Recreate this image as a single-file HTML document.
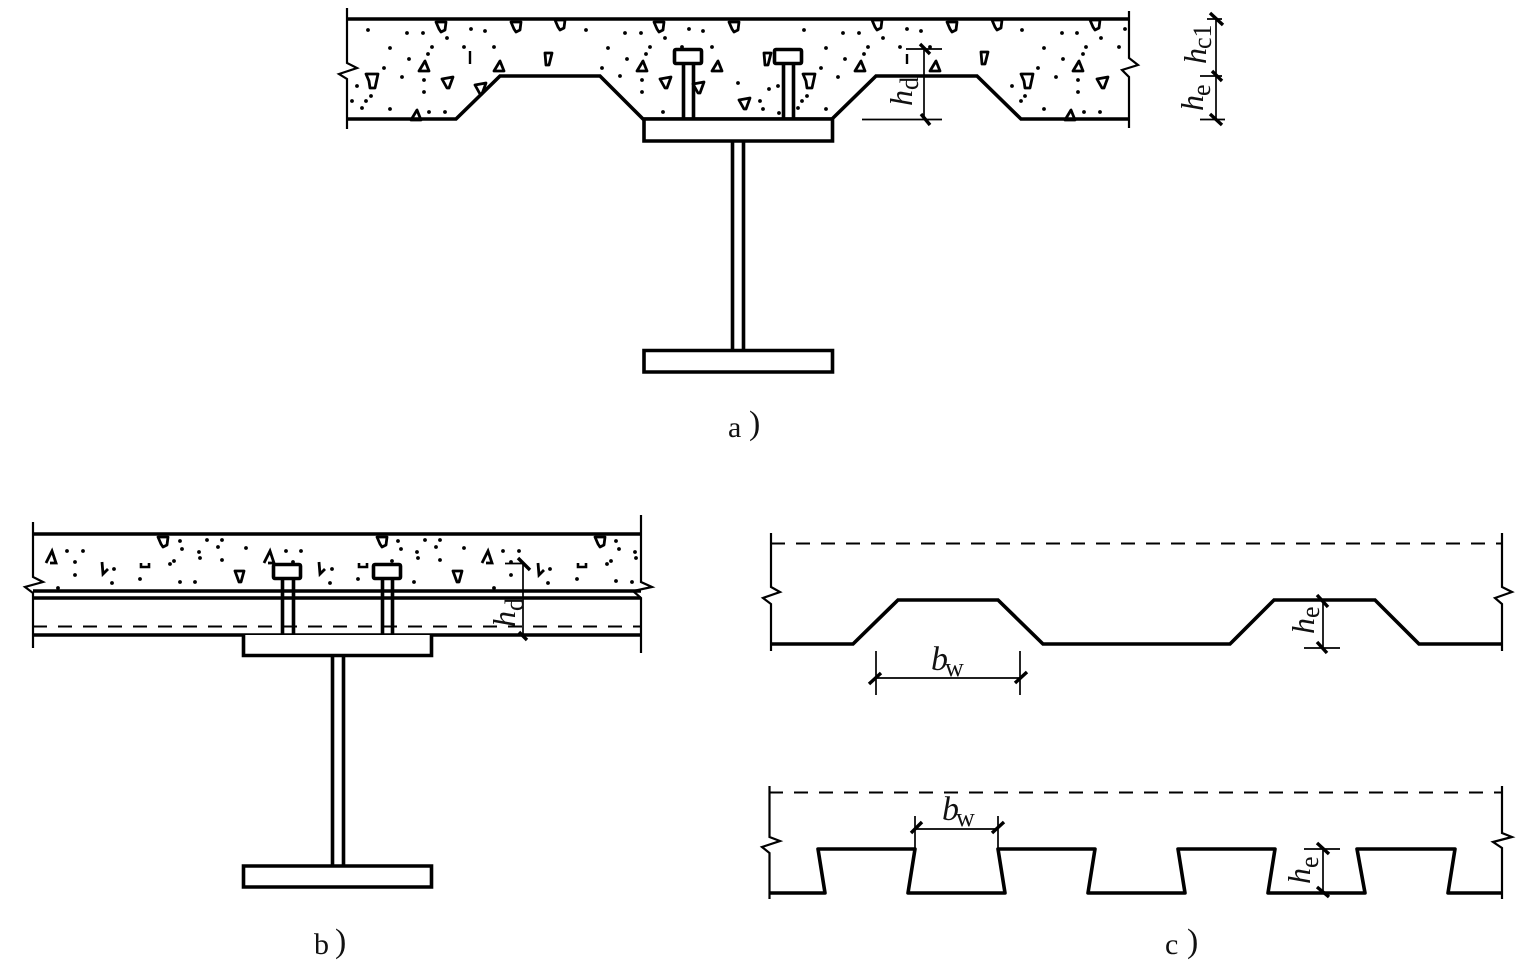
<!DOCTYPE html>
<html><head><meta charset="utf-8"><style>
html,body{margin:0;padding:0;background:#fff}
svg{display:block}
text{font-family:"Liberation Serif",serif;fill:#111}
</style></head><body>
<svg width="1532" height="968" viewBox="0 0 1532 968" xmlns="http://www.w3.org/2000/svg">
<defs>
<path id="t" d="M-5-5L5-5 4 3 0 5-2 2Z" fill="#fff" stroke="#000" stroke-width="2.800" stroke-linejoin="round"/>
<path id="tri" d="M-5 5L5 5 1-5Z" fill="#fff" stroke="#000" stroke-width="2.800" stroke-linejoin="round"/>
<path id="vt" d="M-3-6L4-6 1 6-2 6Z" fill="#fff" stroke="#000" stroke-width="2.800" stroke-linejoin="round"/>
<path id="big" d="M-6-7L6-7 3 7-2 7-3 0Z" fill="#fff" stroke="#000" stroke-width="2.800" stroke-linejoin="round"/>
<path id="q" d="M-5-3L6-5 2 6 0 6Z" fill="#fff" stroke="#000" stroke-width="2.800" stroke-linejoin="round"/>
<path id="inv" d="M-4-5L5-5 2 6 0 6Z" fill="#fff" stroke="#000" stroke-width="2.800" stroke-linejoin="round"/>
<path id="v" d="M-3-6L-2 6 3 1" fill="none" stroke="#000" stroke-width="2.800"/>
<path id="c" d="M-4-2L-4 2 4 2 4-2" fill="none" stroke="#000" stroke-width="2.600"/>
<path id="tr2" d="M-6 6L0-6 4 6-2 6" fill="none" stroke="#000" stroke-width="2.800"/>
</defs>

<!-- dots -->
<path fill="none" stroke="#000" stroke-width="3.800" stroke-linecap="round" d="M368 30h0M407 33h0M423 33h0M447 38h0M471 29h0M485 31h0M586 30h0M625 33h0M641 33h0M665 38h0M689 29h0M703 31h0M390 48h0M432 47h0M428 54h0M464 47h0M494 47h0M608 48h0M650 47h0M646 54h0M682 47h0M712 47h0M409 59h0M384 68h0M402 77h0M424 80h0M424 92h0M357 86h0M371 96h0M366 101h0M352 101h0M362 108h0M390 109h0M429 112h0M445 112h0M627 59h0M602 68h0M620 76h0M642 80h0M642 92h0M663 112h0M738 83h0M769 89h0M778 86h0M760 101h0M763 109h0M779 113h0M804 30h0M843 33h0M859 33h0M883 38h0M907 29h0M921 31h0M1022 30h0M1062 33h0M1077 33h0M1101 38h0M1125 29h0M826 48h0M868 47h0M864 54h0M900 47h0M930 47h0M1044 48h0M1086 47h0M1083 54h0M1119 47h0M845 59h0M821 68h0M838 77h0M1063 59h0M1038 68h0M1056 77h0M1078 80h0M1078 92h0M1012 86h0M1025 96h0M1021 101h0M1044 109h0M1084 112h0M1100 112h0M807 96h0M802 101h0M798 108h0M826 109h0M67 551h0M83 551h0M75 562h0M75 575h0M114 569h0M112 583h0M140 579h0M58 588h0M180 541h0M182 549h0M207 540h0M222 540h0M218 547h0M199 552h0M200 558h0M222 560h0M246 548h0M174 561h0M170 564h0M180 582h0M195 582h0M286 551h0M301 551h0M293 562h0M332 569h0M330 583h0M358 579h0M392 561h0M398 541h0M401 549h0M425 540h0M440 540h0M436 547h0M417 552h0M418 558h0M440 560h0M464 548h0M414 582h0M503 551h0M519 551h0M511 562h0M511 575h0M550 569h0M548 583h0M577 579h0M494 588h0M616 541h0M619 549h0M635 552h0M636 558h0M611 561h0M607 564h0M616 581h0M632 582h0"/>

<!-- aggregates a -->
<use href="#t" x="441" y="27"/><use href="#t" x="516" y="27"/><use href="#t" x="560" y="25"/><use href="#t" x="659" y="27"/><use href="#t" x="734" y="27"/><use href="#t" x="877" y="25"/><use href="#t" x="952" y="27"/><use href="#t" x="997" y="25"/><use href="#t" x="1095" y="25"/>
<use href="#tri" x="424" y="66"/><use href="#tri" x="499" y="66"/><use href="#tri" x="642" y="66"/><use href="#tri" x="717" y="66"/><use href="#tri" x="860" y="66"/><use href="#tri" x="935" y="66"/><use href="#tri" x="1078" y="66"/><use href="#tri" x="416" y="115"/><use href="#tri" x="1070" y="115"/>
<use href="#vt" x="548" y="59"/><use href="#vt" x="767" y="59"/><use href="#vt" x="984" y="58"/>
<use href="#big" x="372" y="81"/><use href="#big" x="809" y="81"/><use href="#big" x="1027" y="81"/>
<use href="#q" x="447" y="82"/><use href="#q" x="665" y="82"/><use href="#q" x="1102" y="82"/><use href="#q" x="480" y="88"/><use href="#q" x="698" y="87"/><use href="#q" x="744" y="103"/>
<path d="M470 51V64M907 54V64" stroke="#000" stroke-width="2.400" fill="none"/>

<!-- aggregates b -->
<use href="#tr2" x="52" y="557"/><use href="#tr2" x="270" y="557"/><use href="#tr2" x="488" y="557"/>
<use href="#t" x="163" y="542"/><use href="#t" x="382" y="542"/><use href="#t" x="600" y="542"/>
<use href="#inv" x="239" y="576"/><use href="#inv" x="457" y="576"/>
<use href="#v" x="105" y="568"/><use href="#v" x="322" y="568"/><use href="#v" x="541" y="569"/>
<use href="#c" x="145" y="565"/><use href="#c" x="363" y="565"/><use href="#c" x="582" y="565"/>

<!-- panel a structure -->
<g fill="none" stroke="#000" stroke-linejoin="miter">
<path stroke-width="3.600" d="M347 19H1129"/>
<path stroke-width="2.200" d="M347 8V63L357 68 339 74 347 79V129M1129 11V58L1138 65 1122 70 1129 77V128"/>
<path stroke-width="3.600" d="M347 119H456L500 76H600L643 119H832L876 76H977L1021 119H1129"/>
<path fill="#fff" stroke-width="3.600" d="M644 119H832.500V141H644Z"/>
<path stroke-width="3.600" d="M732.500 141V350M743.500 141V350"/>
<path fill="#fff" stroke-width="3.600" d="M644 350.500H832.500V372H644Z"/>
<path stroke-width="3.600" d="M683.500 63V119M693.500 63V119M783.500 63V119M793.500 63V119"/>
<rect x="674.500" y="49.500" width="27" height="14" rx="1.500" fill="#fff" stroke-width="3.600"/>
<rect x="774.500" y="49.500" width="27" height="14" rx="1.500" fill="#fff" stroke-width="3.600"/>
<!-- a dims -->
<path stroke-width="1.700" d="M906 49H942M862 119.500H942M924 49V120M1216 19V119M1207 19H1222M1200 76H1222M1200 119.500H1225"/>
<path stroke-width="3.400" d="M920 44L930 54M921 114L930 125M1210 13L1223 25M1212 71L1222 81M1210 114L1222 125"/>
</g>

<!-- panel b structure -->
<g fill="none" stroke="#000">
<path stroke-width="3.400" d="M33 534H641M33 591H641M33 598H641M33 635H641"/>
<path stroke-width="2.200" d="M33 522V577L43 582 25 587 33 593V648M641 515V582L652 587 633 591 641 598V653"/>
<path stroke-width="1.900" stroke-dasharray="14 11" d="M33 626.500H641"/>
<path fill="#fff" stroke-width="3.600" d="M243.500 635V655.500H431.500V635"/>
<path stroke-width="3.600" d="M332.500 656V866M343.500 656V866M282.500 578V635M293.500 578V635M382.500 578V635M392.500 578V635"/>
<path fill="#fff" stroke-width="3.600" d="M243.500 866H431.500V887H243.500Z"/>
<rect x="273.500" y="564.500" width="27" height="14" rx="1.500" fill="#fff" stroke-width="3.600"/>
<rect x="373.500" y="564.500" width="27" height="14" rx="1.500" fill="#fff" stroke-width="3.600"/>
<path stroke-width="1.700" d="M505 563.500H523M523 563V635"/>
<path stroke-width="3.400" d="M518 558L530 570M519 632L527 640"/>
</g>

<!-- panel c top -->
<g fill="none" stroke="#000">
<path stroke-width="2.200" d="M771 533V587L780 592 763 598 771 604V651M1502 533V587L1512 592 1495 598 1502 604V651"/>
<path stroke-width="1.900" stroke-dasharray="14 11" d="M771 543.500H1502"/>
<path stroke-width="3.600" d="M771 644H853L898 600H998L1043 644H1230L1274 600H1375L1419 644H1502"/>
<path stroke-width="1.700" d="M876 651V695M1020 651V695M876 678H1020M1323 600V648M1304 648H1340"/>
<path stroke-width="3.400" d="M869 684L881 673M1015 683L1027 672M1317 595L1328 607M1317 642L1327 653"/>
<!-- panel c lower -->
<path stroke-width="2.200" d="M769.500 786V837L780 841 762 847 769.500 853V899M1502 786V833L1512 837 1493 842 1502 848V899"/>
<path stroke-width="1.900" stroke-dasharray="14 11" d="M769 792.500H1502"/>
<path stroke-width="3.600" stroke-linejoin="round" d="M769 893H825L818 849H915L908 893H1005L998 849H1095L1088 893H1185L1178 849H1275L1268 893H1365L1357 849H1455L1448 893H1502"/>
<path stroke-width="1.700" d="M915 816V849M998 816V849M915 829H998M1323 849V893M1304 849H1340"/>
<path stroke-width="3.400" d="M911 833L922 822M992 833L1004 822M1317 843L1329 854M1317 887L1329 897"/>
</g>

<!-- labels -->
<g font-size="32">
<g transform="translate(912 106) rotate(-90)"><text font-style="italic">h</text><text x="16" y="6" font-size="26">d</text></g>
<g transform="translate(1206 64) rotate(-90)"><text font-style="italic">h</text><text x="15" y="5" font-size="26">c1</text></g>
<g transform="translate(1203 111) rotate(-90)"><text font-style="italic">h</text><text x="15" y="7" font-size="26">e</text></g>
<g transform="translate(515 627) rotate(-90)"><text font-style="italic">h</text><text x="16" y="8" font-size="26">d</text></g>
<g transform="translate(1314 634) rotate(-90)"><text font-style="italic">h</text><text x="16" y="5" font-size="26">e</text></g>
<g transform="translate(1310 884) rotate(-90)"><text font-style="italic">h</text><text x="16" y="8" font-size="26">e</text></g>
<text x="931" y="670" font-style="italic" font-size="34">b</text><text x="945" y="676" font-size="26">w</text>
<text x="942" y="820" font-style="italic" font-size="34">b</text><text x="956" y="826" font-size="26">w</text>
</g>
<g font-size="30">
<text x="728" y="437">a</text><text x="749" y="434" font-size="34">)</text>
<text x="314" y="954">b</text><text x="335" y="952" font-size="34">)</text>
<text x="1165" y="954">c</text><text x="1187" y="952" font-size="34">)</text>
</g>
</svg>
</body></html>
